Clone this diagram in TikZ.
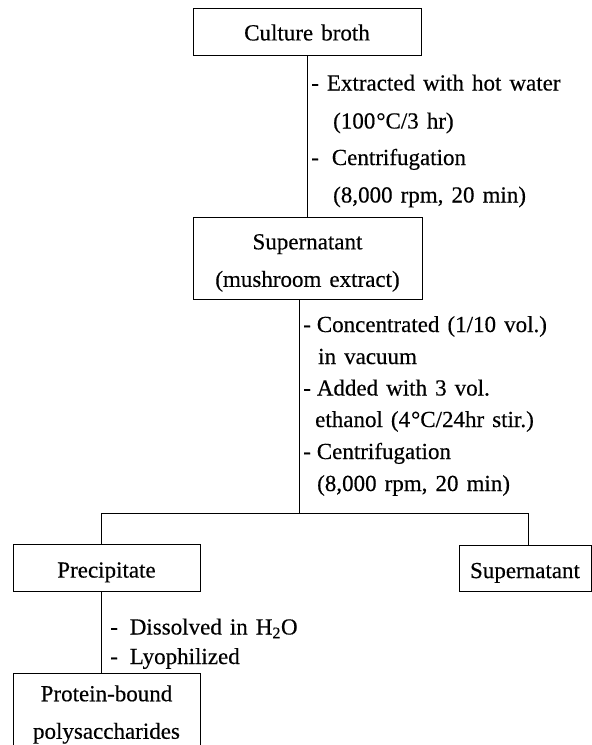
\documentclass[tikz,border=0pt]{standalone}
\usepackage{fontspec}
\setmainfont{Liberation Serif}[FakeBold=0.4]
\newcommand\myfs{\fontsize{23}{37.5}\selectfont\spaceskip=0.35em plus 0.1em\relax}
\newcommand\mystrut[1]{\rule{0pt}{#1pt}}
\begin{document}
\begin{tikzpicture}[x=1pt,y=-1pt,
  box/.style={draw, line width=1pt, inner sep=0pt, align=center, font=\myfs},
  txt/.style={inner sep=0pt, anchor=base west, font=\myfs},
  link/.style={line width=1pt}]
\useasboundingbox (0,0) rectangle (592,745);
% boxes
\node[box, minimum width=228pt, minimum height=47pt] (broth) at (307,31.5) {\mystrut{18}Culture broth};
\node[box, minimum width=229pt, minimum height=82pt] (sup1) at (307.5,258) {\mystrut{25}Supernatant\\(mushroom extract)};
\node[box, minimum width=187pt, minimum height=47pt] (prec) at (106.5,567.5) {\mystrut{25}Precipitate};
\node[box, minimum width=132pt, minimum height=46pt] (sup2) at (525,568) {\mystrut{25}Supernatant};
\node[box, minimum width=187pt, minimum height=80pt] (prot) at (106.5,713) {\mystrut{19}Protein-bound\\polysaccharides};
% junctions
\coordinate (j) at (299,513);
\coordinate (hl) at (101,513);
\coordinate (hr) at (528,513);
% connectors
\draw[link] (broth.south) -- (broth.south |- sup1.north);
\draw[link] (j |- sup1.south) -- (j);
\draw[link] (hl |- prec.north) -- (hl) -- (hr) -- (hr |- sup2.north);
\draw[link] (hl |- prec.south) -- (hl |- prot.north);
% step texts
\node[txt] (e1) at (311,90.5) {- Extracted with hot water};
\node[txt] (e2) at (333,128.5) {(100\kern1pt°C/3 hr)};
\node[txt] (e3) at (311,165) {-\hspace{13pt}Centrifugation};
\node[txt] (e4) at (333,202.5) {(8,000 rpm, 20 min)};
\node[txt] (c1) at (303,332) {-\hspace{6pt}Concentrated (1/10 vol.)};
\node[txt] (c2) at (318,364) {in vacuum};
\node[txt] (c3) at (303,395.5) {-\hspace{6pt}Added with 3 vol.};
\node[txt] (c4) at (315,427) {ethanol (4\kern1pt°C/24hr stir.)};
\node[txt] (c5) at (303,459) {-\hspace{6pt}Centrifugation};
\node[txt] (c6) at (317,491) {(8,000 rpm, 20 min)};
\node[txt] (d1) at (110,634.5) {-\hspace{12pt}Dissolved in H\textsubscript{2}O};
\node[txt] (d2) at (110,664) {-\hspace{12pt}Lyophilized};
\end{tikzpicture}
\end{document}
